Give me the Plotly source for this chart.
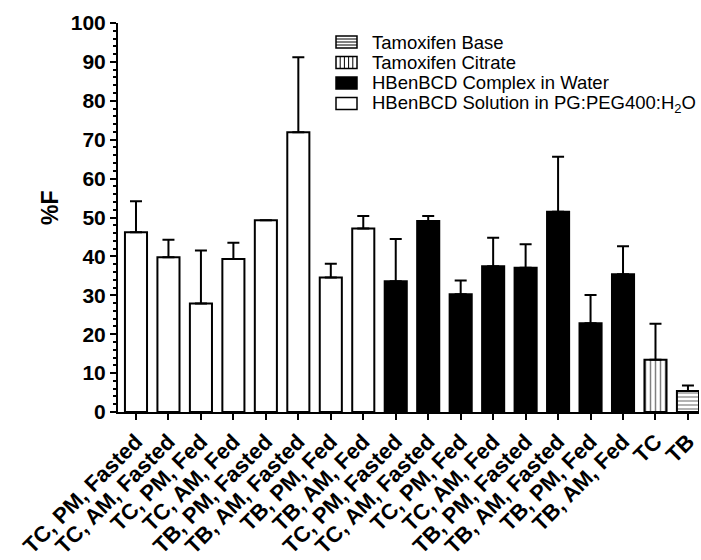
import plotly.graph_objects as go

# Group labels along the x axis (formulation groups of 8, then the two reference forms)
group_labels = ["TC, PM, Fasted", "TC, AM, Fasted", "TC, PM, Fed", "TC, AM, Fed",
                "TB, PM, Fasted", "TB, AM, Fasted", "TB, PM, Fed", "TB, AM, Fed"]
tick_labels = group_labels + group_labels + ["TC", "TB"]

# %F means and upper SD for each formulation
solution_pos = list(range(0, 8))
solution_vals = [46.2, 39.8, 27.9, 39.3, 49.3, 71.9, 34.6, 47.2]
solution_err = [8.0, 4.5, 13.6, 4.2, 0.0, 19.3, 3.5, 3.2]

complex_pos = list(range(8, 16))
complex_vals = [33.6, 49.1, 30.3, 37.5, 37.1, 51.5, 22.8, 35.4]
complex_err = [10.9, 1.3, 3.5, 7.3, 6.0, 14.1, 7.3, 7.2]

citrate_pos = [16]
citrate_vals = [13.4]
citrate_err = [9.3]

base_pos = [17]
base_vals = [5.4]
base_err = [1.4]

legend_names = ["Tamoxifen Base", "Tamoxifen Citrate", "HBenBCD Complex in Water",
                "HBenBCD Solution in PG:PEG400:H<sub>2</sub>O"]

FONT = "Liberation Sans, Arial, sans-serif"
BAR_W = 0.68
W, H = 701, 560
ML, MR, MT, MB = 118, 2, 23, 148
PW, PH = W - ML - MR, H - MT - MB


def err(vals):
    return dict(type="data", array=vals, arrayminus=[0] * len(vals), symmetric=False,
                color="black", thickness=2, width=6)


def px_x(px):
    return (px - ML) / PW


def px_y(py):
    return (H - MB - py) / PH


outline = dict(color="black", width=2)

fig = go.Figure()
fig.add_trace(go.Bar(
    x=base_pos, y=base_vals, name=legend_names[0], width=BAR_W,
    marker=dict(color="white", line=outline,
                pattern=dict(shape="-", size=4, solidity=0.3, fgcolor="black", bgcolor="white")),
    error_y=err(base_err)))
fig.add_trace(go.Bar(
    x=citrate_pos, y=citrate_vals, name=legend_names[1], width=BAR_W,
    marker=dict(color="white", line=outline,
                pattern=dict(shape="|", size=5, solidity=0.3, fgcolor="black", bgcolor="white")),
    error_y=err(citrate_err)))
fig.add_trace(go.Bar(
    x=complex_pos, y=complex_vals, name=legend_names[2], width=BAR_W,
    marker=dict(color="black", line=outline),
    error_y=err(complex_err)))
fig.add_trace(go.Bar(
    x=solution_pos, y=solution_vals, name=legend_names[3], width=BAR_W,
    marker=dict(color="white", line=outline),
    error_y=err(solution_err)))

# Compact key: boxes with the bar styling, labels beside them
shapes, annotations = [], []
key_left, key_right, text_left = 336, 357, 370
row_y = [42, 62.5, 83, 103.5]
for i, (name, cy) in enumerate(zip(legend_names, row_y)):
    top, bot = cy - 6, cy + 6
    fill = "black" if i == 2 else "white"
    shapes.append(dict(type="rect", xref="paper", yref="paper",
                       x0=px_x(key_left), x1=px_x(key_right), y0=px_y(bot), y1=px_y(top),
                       line=dict(color="black", width=1.5), fillcolor=fill, layer="above"))
    if i == 0:
        for k in range(1, 4):
            yy = top + k * 3
            shapes.append(dict(type="line", xref="paper", yref="paper",
                               x0=px_x(key_left), x1=px_x(key_right),
                               y0=px_y(yy), y1=px_y(yy),
                               line=dict(color="black", width=1), layer="above"))
    if i == 1:
        for k in range(1, 5):
            xx = key_left + k * 4.2
            shapes.append(dict(type="line", xref="paper", yref="paper",
                               x0=px_x(xx), x1=px_x(xx),
                               y0=px_y(bot), y1=px_y(top),
                               line=dict(color="black", width=1), layer="above"))
    annotations.append(dict(text=name, xref="paper", yref="paper",
                            x=px_x(text_left), y=px_y(cy), xanchor="left", yanchor="middle",
                            showarrow=False,
                            font=dict(family=FONT, size=18.5, color="black")))

# y-axis title
annotations.append(dict(text="%F", xref="paper", yref="paper",
                        x=px_x(50), y=px_y(208), xanchor="center", yanchor="middle",
                        textangle=-90, showarrow=False,
                        font=dict(family=FONT, size=23, weight="bold", color="black")))

fig.update_layout(
    width=W, height=H,
    margin=dict(l=ML, r=MR, t=MT, b=MB),
    plot_bgcolor="white", paper_bgcolor="white",
    barmode="overlay",
    font=dict(family=FONT, color="black"),
    showlegend=False,
    shapes=shapes,
    annotations=annotations,
)

fig.update_xaxes(
    range=[-0.554, 17.34],
    tickmode="array", tickvals=list(range(len(tick_labels))), ticktext=tick_labels,
    tickangle=-45,
    tickfont=dict(family=FONT, size=22, weight="bold", color="black"),
    showline=True, linecolor="black", linewidth=2,
    ticks="outside", ticklen=6, tickwidth=2, tickcolor="black",
    showgrid=False, zeroline=False, automargin=False,
)

fig.update_yaxes(
    range=[0, 100],
    tickmode="linear", tick0=0, dtick=10,
    tickfont=dict(family=FONT, size=21, weight="bold", color="black"),
    showline=True, linecolor="black", linewidth=2,
    ticks="outside", ticklen=6, tickwidth=2, tickcolor="black",
    minor=dict(dtick=2, ticks="outside", ticklen=3, tickwidth=1.5, tickcolor="black"),
    showgrid=False, zeroline=False, automargin=False,
)

fig.write_html("out.html")
